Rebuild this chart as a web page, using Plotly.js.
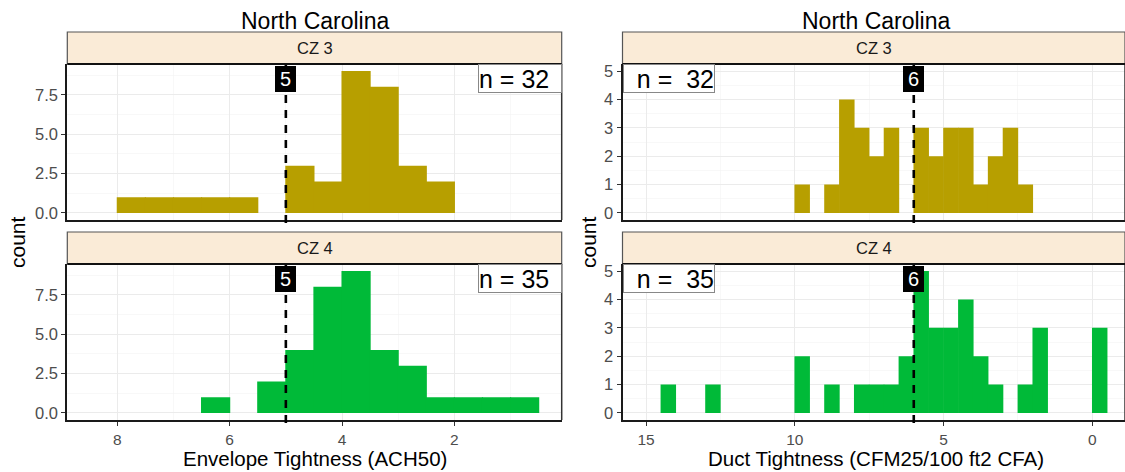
<!DOCTYPE html>
<html><head><meta charset="utf-8">
<script src="https://cdn.plot.ly/plotly-3.0.1.min.js"></script>
<style>html,body{margin:0;padding:0;background:#fff}#chart{width:1125px;height:472px}</style>
</head><body><div id="chart"></div>
<script>
const stateName = 'North Carolina';
const zoneLabels = ['CZ 3', 'CZ 4'];
const zoneColors = ['#B79F00', '#00BA38'];

// Envelope tightness (ACH50), bin width 0.5: bin centres and counts
const envBinsCZ3 = [7.75, 7.25, 6.75, 6.25, 5.75, 5.25, 4.75, 4.25, 3.75, 3.25, 2.75, 2.25];
const envCountsCZ3 = [1, 1, 1, 1, 1, 0, 3, 2, 9, 8, 3, 2];
const envBinsCZ4 = [6.25, 5.75, 5.25, 4.75, 4.25, 3.75, 3.25, 2.75, 2.25, 1.75, 1.25, 0.75];
const envCountsCZ4 = [1, 0, 2, 4, 8, 9, 4, 3, 1, 1, 1, 1];

// Duct tightness (CFM25/100 ft2 CFA), bin width 0.5: bin centres and counts
const ductBinsCZ3 = [9.75, 9.25, 8.75, 8.25, 7.75, 7.25, 6.75, 6.25, 5.75, 5.25, 4.75, 4.25, 3.75, 3.25, 2.75, 2.25];
const ductCountsCZ3 = [1, 0, 1, 4, 3, 2, 3, 0, 3, 2, 3, 3, 1, 2, 3, 1];
const ductBinsCZ4 = [14.25, 13.75, 13.25, 12.75, 12.25, 11.75, 11.25, 10.75, 10.25, 9.75, 9.25, 8.75, 8.25, 7.75, 7.25, 6.75, 6.25, 5.75, 5.25, 4.75, 4.25, 3.75, 3.25, 2.75, 2.25, 1.75, 1.25, 0.75, 0.25, -0.25];
const ductCountsCZ4 = [1, 0, 0, 1, 0, 0, 0, 0, 0, 2, 0, 1, 0, 1, 1, 1, 2, 5, 3, 3, 4, 2, 1, 0, 1, 3, 0, 0, 0, 3];

// Code targets (dashed lines)
const envTarget = 5;
const ductTarget = 6;

// Tick labels
const envTicks = [8, 6, 4, 2];
const ductTicks = [15, 10, 5, 0];
const envCountTicks = [0, 2.5, 5, 7.5];
const envCountTickText = ['0.0', '2.5', '5.0', '7.5'];
const ductCountTicks = [0, 1, 2, 3, 4, 5];

const envTitle = 'Envelope Tightness (ACH50)';
const ductTitle = 'Duct Tightness (CFM25/100 ft2 CFA)';
const countTitle = 'count';

// ---------- layout geometry (pixels) ----------
const W = 1125, H = 472;
const FONT = 'Liberation Sans, Arial, Helvetica, sans-serif';
const px = v => v / W;
const py = v => 1 - v / H;
const colX = [[67.3, 561.7], [622.5, 1125]];
const rowY = [[64, 220], [264, 420]];
const stripY = [[32, 64], [232, 264]];
const sum = a => a.reduce((s, v) => s + v, 0);

const panels = [
  {col: 0, row: 0, bins: envBinsCZ3, counts: envCountsCZ3, zone: 0},
  {col: 0, row: 1, bins: envBinsCZ4, counts: envCountsCZ4, zone: 1},
  {col: 1, row: 0, bins: ductBinsCZ3, counts: ductCountsCZ3, zone: 0},
  {col: 1, row: 1, bins: ductBinsCZ4, counts: ductCountsCZ4, zone: 1},
];

const data = [];
const layout = {
  width: W, height: H,
  margin: {l: 0, r: 0, t: 0, b: 0},
  paper_bgcolor: 'white', plot_bgcolor: 'white',
  showlegend: false, barmode: 'overlay',
  font: {family: FONT, color: '#4D4D4D'},
  shapes: [], annotations: []
};

panels.forEach((p, i) => {
  const k = i + 1;
  const xa = 'xaxis' + (k === 1 ? '' : k), ya = 'yaxis' + (k === 1 ? '' : k);
  const xr = 'x' + (k === 1 ? '' : k), yr = 'y' + (k === 1 ? '' : k);
  const isEnv = p.col === 0;
  data.push({
    type: 'bar', x: p.bins, y: p.counts, width: 0.52,
    marker: {color: zoneColors[p.zone], line: {width: 0}},
    xaxis: xr, yaxis: yr, hoverinfo: 'skip'
  });
  const xDomain = [px(colX[p.col][0]), px(colX[p.col][1])];
  const yDomain = [py(rowY[p.row][1]), py(rowY[p.row][0])];
  layout[xa] = {
    domain: xDomain, anchor: yr,
    range: isEnv ? [8.89, 0.09] : [15.79, -1.10],
    tickmode: 'array', tickvals: isEnv ? envTicks : ductTicks,
    showticklabels: p.row === 1, ticks: p.row === 1 ? 'outside' : '',
    ticklen: 4, tickcolor: '#333', tickwidth: 1,
    tickfont: {size: 15.5, color: '#4D4D4D', family: FONT},
    showgrid: true, gridcolor: '#EBEBEB', gridwidth: 1,
    minor: {tickmode: 'linear', tick0: 0, dtick: isEnv ? 1 : 2.5, showgrid: true, gridcolor: '#F4F4F4', gridwidth: 0.6, ticks: ''},
    showline: true, linecolor: '#1A1A1A', linewidth: 2, zeroline: false, fixedrange: true
  };
  layout[ya] = {
    domain: yDomain, anchor: xr,
    range: isEnv ? [-0.45, 9.45] : [-0.25, 5.25],
    tickmode: 'array',
    tickvals: isEnv ? envCountTicks : ductCountTicks,
    ticktext: isEnv ? envCountTickText : ductCountTicks.map(String),
    ticks: 'outside', ticklen: 4, tickcolor: '#333', tickwidth: 1,
    tickfont: {size: 16.5, color: '#4D4D4D', family: FONT},
    showgrid: true, gridcolor: '#EBEBEB', gridwidth: 1,
    minor: {tickmode: 'linear', tick0: 0, dtick: isEnv ? 1.25 : 0.5, showgrid: true, gridcolor: '#F4F4F4', gridwidth: 0.6, ticks: ''},
    showline: true, linecolor: '#1A1A1A', linewidth: 2, zeroline: false, fixedrange: true
  };
  // right panel border
  layout.shapes.push({type: 'line', xref: xr + ' domain', yref: yr + ' domain', x0: 1, x1: 1, y0: 0, y1: 1,
    line: {color: '#333', width: 1.5}});
  // dashed target line
  const target = isEnv ? envTarget : ductTarget;
  layout.shapes.push({type: 'line', xref: xr, yref: yr + ' domain', x0: target, x1: target, y0: -0.02, y1: 1,
    line: {color: 'black', width: 2.6, dash: '8px,7px'}});
  // strip
  const sx0 = px(colX[p.col][0]), sx1 = px(colX[p.col][1]);
  layout.shapes.push({type: 'rect', xref: 'paper', yref: 'paper', x0: sx0, x1: sx1,
    y0: py(stripY[p.row][1]), y1: py(stripY[p.row][0]),
    fillcolor: '#FAEBD7', line: {color: '#555', width: 1.2}, layer: 'below'});
  layout.shapes.push({type: 'line', xref: 'paper', yref: 'paper', x0: sx0, x1: sx1,
    y0: py(stripY[p.row][1]), y1: py(stripY[p.row][1]), line: {color: '#111', width: 2}});
  layout.annotations.push({xref: 'paper', yref: 'paper', x: (sx0 + sx1) / 2,
    y: py((stripY[p.row][0] + stripY[p.row][1]) / 2), text: zoneLabels[p.zone],
    showarrow: false, font: {size: 16.5, color: '#1A1A1A', family: FONT}, xanchor: 'center', yanchor: 'middle'});
  // target label
  layout.annotations.push({xref: xr, yref: yr + ' domain', x: target, y: 0.99, yanchor: 'top', xanchor: 'center',
    text: String(target), showarrow: false, font: {size: 20, color: 'white', family: FONT},
    bgcolor: 'black', bordercolor: 'black', borderwidth: 1, borderpad: 0, width: 19, height: 24});
  // n label
  const n = sum(p.counts);
  layout.annotations.push({xref: xr + ' domain', yref: yr + ' domain', x: isEnv ? 1 : 0, y: 1,
    xanchor: isEnv ? 'right' : 'left', yanchor: 'top',
    text: isEnv ? 'n = ' + n : 'n =  ' + n, showarrow: false,
    align: isEnv ? 'left' : 'right', width: isEnv ? 82 : 90, height: 27,
    font: {size: 25, color: 'black', family: FONT},
    bgcolor: 'white', bordercolor: '#888', borderwidth: 1, borderpad: 0});
});

// column titles, axis titles
[[0, envTitle], [1, ductTitle]].forEach(([c, t]) => {
  const cx = px((colX[c][0] + (c === 1 ? 1129.5 : colX[c][1])) / 2);
  layout.annotations.push({xref: 'paper', yref: 'paper', x: cx, y: py(21), text: stateName,
    showarrow: false, xanchor: 'center', yanchor: 'middle', font: {size: 23, color: 'black', family: FONT}});
  layout.annotations.push({xref: 'paper', yref: 'paper', x: cx, y: 0.002, text: t,
    showarrow: false, xanchor: 'center', yanchor: 'bottom', borderpad: 0,
    font: {size: 20.5, color: 'black', family: FONT}});
});
[18, 589].forEach(x => {
  layout.annotations.push({xref: 'paper', yref: 'paper', x: px(x), y: py(242), text: countTitle,
    textangle: -90, showarrow: false, xanchor: 'center', yanchor: 'middle', font: {size: 21, color: 'black', family: FONT}});
});

Plotly.newPlot('chart', data, layout, {displayModeBar: false, staticPlot: true});
</script>
</body></html>
